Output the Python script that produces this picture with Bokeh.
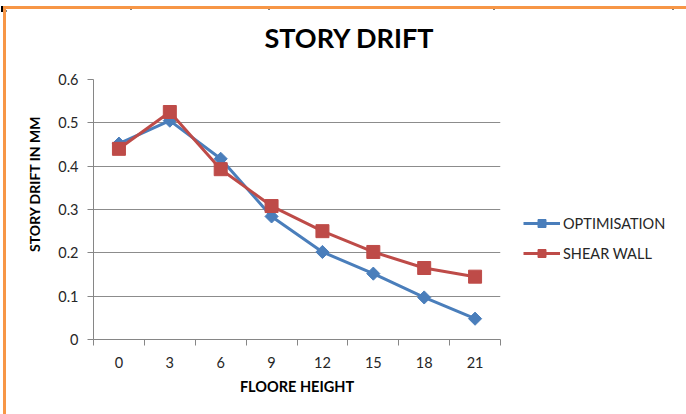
import math
from bokeh.plotting import figure
from bokeh.models import (ColumnDataSource, FixedTicker, Legend, LegendItem, Title, Label,
                          CustomJSTickFormatter, Div, Range1d)
from bokeh.layouts import column, row
from bokeh.embed import file_html
from bokeh.resources import INLINE

# Story drift per floor level
floor_height = [0, 3, 6, 9, 12, 15, 18, 21]
optimisation = [0.452, 0.505, 0.417, 0.284, 0.202, 0.152, 0.097, 0.048]
shear_wall = [0.440, 0.525, 0.393, 0.308, 0.250, 0.202, 0.165, 0.145]
y_ticks = [0, 0.1, 0.2, 0.3, 0.4, 0.5, 0.6]
series_names = ["OPTIMISATION", "SHEAR WALL"]
chart_title = "STORY DRIFT"

FONT = "Lato"
BLUE = "#4A7EBB"
RED = "#BE4B48"
AXIS = "#868686"
TEXT = "#262626"
ORANGE = "3px solid #F79646"

# ---- heading strip (60 px of drawing area under the orange top border) ------
head = figure(width=683, height=63, x_range=Range1d(0, 680), y_range=Range1d(0, 60),
              x_axis_type=None, y_axis_type=None, output_backend="svg", title=None,
              toolbar_location=None, min_border=0, outline_line_color=None,
              styles={"border-left": ORANGE, "border-top": ORANGE, "margin-left": "3px"})
head.grid.visible = False
head.add_layout(Label(x=341.5, y=33, text=chart_title, text_align="center",
                      text_baseline="alphabetic", text_font=FONT, text_font_size="27px",
                      text_font_style="bold", text_color="black"))

# ---- main chart -------------------------------------------------------------
src = ColumnDataSource(dict(x=floor_height, opt=optimisation, shear=shear_wall))

p = figure(width=499, height=345, x_range=(-1.5, 22.5), y_range=(0, 0.6),
           output_backend="svg", toolbar_location=None, title=None,
           min_border_left=87, min_border_right=5, min_border_top=10, min_border_bottom=75,
           outline_line_color=None, background_fill_color="white", border_fill_color="white",
           styles={"border-left": ORANGE, "margin-left": "3px"})

# x axis: labels at floor levels, tick marks between them
xt = FixedTicker(ticks=floor_height, minor_ticks=[-1.5 + 3 * i for i in range(9)])
p.xaxis.ticker = xt
p.xaxis.major_tick_out = 0
p.xaxis.major_tick_in = 0
p.xaxis.minor_tick_out = 6
p.xaxis.minor_tick_in = 0
p.xaxis.minor_tick_line_color = AXIS
p.xaxis.axis_line_color = AXIS
p.xaxis.major_label_standoff = 11
p.xaxis.major_label_text_font = FONT
p.xaxis.major_label_text_font_size = "14.5px"
p.xaxis.major_label_text_color = TEXT
p.xaxis.axis_label = "FLOORE HEIGHT"
p.xaxis.axis_label_text_font = FONT
p.xaxis.axis_label_text_font_size = "14.5px"
p.xaxis.axis_label_text_font_style = "bold"
p.xaxis.axis_label_text_color = "black"
p.xaxis.axis_label_standoff = 7
p.xgrid.visible = False

# y axis
yt = FixedTicker(ticks=y_ticks, minor_ticks=[])
p.yaxis.ticker = yt
p.ygrid.ticker = yt
p.yaxis.formatter = CustomJSTickFormatter(code="return tick === 0 ? '0' : tick.toFixed(1);")
p.yaxis.major_tick_out = 6
p.yaxis.major_tick_in = 0
p.yaxis.minor_tick_out = 0
p.yaxis.minor_tick_in = 0
p.yaxis.major_tick_line_color = AXIS
p.yaxis.axis_line_color = AXIS
p.yaxis.major_label_standoff = 9
p.yaxis.major_label_text_font = FONT
p.yaxis.major_label_text_font_size = "14.5px"
p.yaxis.major_label_text_color = TEXT
p.ygrid.grid_line_color = "#8c8c8c"
p.ygrid.grid_line_width = 1

p.add_layout(Title(text="STORY DRIFT IN MM", align="right", offset=36,
                   text_font=FONT, text_font_size="14px", text_font_style="bold",
                   text_color="black", standoff=26), "left")

# series
line_opt = dict(line_width=3, line_color=BLUE)
mark_opt = dict(marker="square", angle=math.pi / 4, size=9.3, fill_color=BLUE, line_color=BLUE)
line_sw = dict(line_width=3, line_color=RED)
mark_sw = dict(marker="square", size=13, fill_color=RED, line_color=RED)

p.line("x", "opt", source=src, **line_opt)
p.scatter("x", "opt", source=src, **mark_opt)
p.line("x", "shear", source=src, **line_sw)
p.scatter("x", "shear", source=src, **mark_sw)

# ---- legend column to the right of the plot area ----------------------------
# its renderers share the data but its ranges keep them out of view
key = figure(width=184, height=345, x_range=Range1d(1000, 1001), y_range=Range1d(1000, 1001),
             x_axis_type=None, y_axis_type=None, output_backend="svg", title=None,
             toolbar_location=None, min_border=0, outline_line_color=None)
key.grid.visible = False
k1 = [key.line("x", "opt", source=src, **line_opt), key.scatter("x", "opt", source=src, **mark_opt)]
k2 = [key.line("x", "shear", source=src, **line_sw), key.scatter("x", "shear", source=src, **mark_sw)]
legend = Legend(items=[LegendItem(label=series_names[0], renderers=k1),
                       LegendItem(label=series_names[1], renderers=k2)],
                location=(21, 76), orientation="vertical",
                border_line_color=None, background_fill_alpha=0,
                padding=0, margin=0, spacing=10,
                glyph_width=37, glyph_height=20, label_height=20, label_standoff=3,
                label_text_font=FONT, label_text_font_size="14.5px", label_text_color=TEXT)
key.add_layout(legend)

# ---- thin table rule along the top edge of the page -------------------------
cells = [1, 130, 268, 493, 672]
rule = '<div style="position:relative;width:686px;height:6px;">'
rule += '<div style="position:absolute;left:1px;top:4px;width:674px;height:2px;background:#000"></div>'
for cx in cells:
    rule += f'<div style="position:absolute;left:{cx}px;top:0;width:2px;height:6px;background:#000"></div>'
rule += '</div>'
top_rule = Div(text=rule, width=686, height=6, margin=0)

layout = column(top_rule, head, row(p, key, spacing=0), spacing=0)

open("out.html", "w").write(file_html(layout, INLINE))
